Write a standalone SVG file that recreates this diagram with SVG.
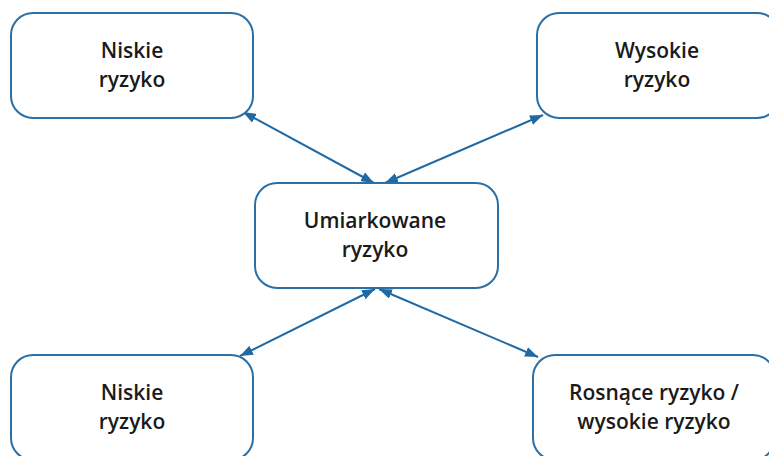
<svg xmlns="http://www.w3.org/2000/svg" width="769" height="456" viewBox="0 0 769 456">
<defs>
<style>
.box{fill:#ffffff;stroke:#2a6fa5;stroke-width:2}
.lbl{font-family:"Open Sans","Noto Sans","Liberation Sans",sans-serif;font-weight:600;font-size:21px;fill:#1a1a1a;text-anchor:middle}
.con{stroke:#1f6aa5;stroke-width:2;fill:none;marker-start:url(#ah);marker-end:url(#ah)}
</style>
<marker id="ah" markerUnits="userSpaceOnUse" markerWidth="14" markerHeight="10" refX="13" refY="5" orient="auto-start-reverse">
<path d="M0,0 L13,5 L0,10 z" fill="#1f6aa5"/>
</marker>
</defs>
<rect width="769" height="456" fill="#ffffff"/>
<g id="connectors">
<line class="con" x1="243" y1="112" x2="374" y2="183"/>
<line class="con" x1="543" y1="115" x2="385" y2="183"/>
<line class="con" x1="375" y1="289" x2="240" y2="356"/>
<line class="con" x1="379" y1="289" x2="538" y2="357"/>
</g>
<g id="n-niskie-top">
<rect class="box" x="11" y="13" width="242" height="105" rx="22"/>
<text class="lbl" x="132" y="58">Niskie</text>
<text class="lbl" x="132" y="87">ryzyko</text>
</g>
<g id="n-wysokie">
<rect class="box" x="537" y="13" width="242" height="105" rx="22"/>
<text class="lbl" x="657" y="58">Wysokie</text>
<text class="lbl" x="657" y="87">ryzyko</text>
</g>
<g id="n-umiarkowane">
<rect class="box" x="255" y="183" width="243" height="105" rx="22"/>
<text class="lbl" x="375" y="228">Umiarkowane</text>
<text class="lbl" x="375" y="257">ryzyko</text>
</g>
<g id="n-niskie-bottom">
<rect class="box" x="11" y="355" width="242" height="105" rx="22"/>
<text class="lbl" x="132" y="400">Niskie</text>
<text class="lbl" x="132" y="429">ryzyko</text>
</g>
<g id="n-rosnace">
<rect class="box" x="533" y="355" width="242" height="105" rx="22"/>
<text class="lbl" x="654" y="400">Rosnące ryzyko /</text>
<text class="lbl" x="654" y="429">wysokie ryzyko</text>
</g>
</svg>
